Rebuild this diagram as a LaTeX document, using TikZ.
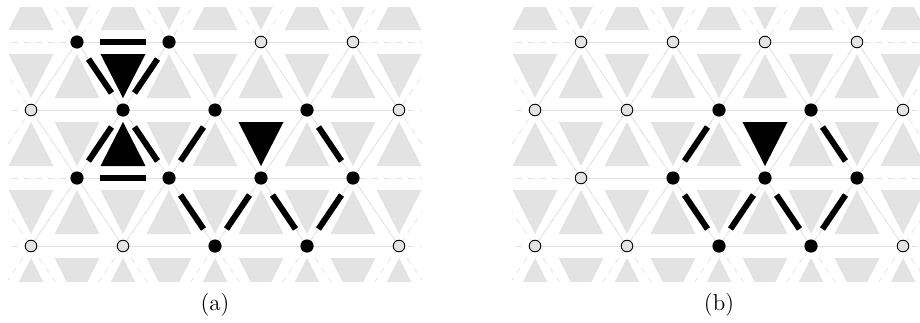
\documentclass[tikz,border=0pt]{standalone}
\usetikzlibrary{calc,backgrounds}

\begin{document}
\begin{tikzpicture}[x=0.5pt, y=-0.5pt,
  occ/.style={circle, fill=black, inner sep=0pt, minimum size=6.6pt},
  vac/.style={circle, draw=black, fill=black!11, line width=0.45pt, inner sep=0pt, minimum size=5.8pt},
  tri/.style={fill=black!11},
  plaq/.style={fill=black},
  gridline/.style={black!12, line width=0.35pt},
  bond/.style={line width=3pt},
  caption/.style={font=\fontsize{11.5pt}{14pt}\selectfont}
]
  \useasboundingbox (0,0) rectangle (920,322);

  % sites of panel (a)
  \foreach \s [count=\c from 0] in {occ,occ,vac,vac} \node[\s] (a0\c) at ({77+92*\c},42) {};
  \foreach \s [count=\c from 0] in {vac,occ,occ,occ,vac} \node[\s] (a1\c) at ({31+92*\c},110) {};
  \foreach \s [count=\c from 0] in {occ,occ,occ,occ} \node[\s] (a2\c) at ({77+92*\c},178) {};
  \foreach \s [count=\c from 0] in {vac,vac,occ,occ,vac} \node[\s] (a3\c) at ({31+92*\c},246) {};

  % sites of panel (b)
  \foreach \s [count=\c from 0] in {vac,vac,vac,vac} \node[\s] (b0\c) at ({581+92*\c},42) {};
  \foreach \s [count=\c from 0] in {vac,vac,occ,occ,vac} \node[\s] (b1\c) at ({535+92*\c},110) {};
  \foreach \s [count=\c from 0] in {vac,occ,occ,occ} \node[\s] (b2\c) at ({581+92*\c},178) {};
  \foreach \s [count=\c from 0] in {vac,vac,occ,occ,vac} \node[\s] (b3\c) at ({535+92*\c},246) {};

  % black plaquettes
  \fill[plaq] (100.5,54) -- (145.5,54) -- (123,98) -- cycle;
  \fill[plaq] (123,122) -- (145.5,166) -- (100.5,166) -- cycle;
  \fill[plaq] (238.5,122) -- (283.5,122) -- (261,166) -- cycle;
  \fill[plaq] (742.5,122) -- (787.5,122) -- (765,166) -- cycle;

  % bonds
  \foreach \u/\v in {a00/a01, a00/a11, a01/a11, a11/a20, a11/a21, a20/a21,
                     a21/a12, a13/a23,
                     a21/a32, a32/a22, a22/a33, a33/a23,
                     b21/b12, b13/b23,
                     b21/b32, b32/b22, b22/b33, b33/b23}
    \draw[bond] ($(\u)!0.25!(\v)$) -- ($(\u)!0.75!(\v)$);

  \node[caption] (capa) at (215,305) {(a)};
  \node[caption] (capb) at (719,305) {(b)};

  % lattice background
  \begin{scope}[on background layer]
  \foreach \p/\dx in {a/0, b/504} {
    \begin{scope}[shift={(\dx,0)}]
      \clip (8,7) rectangle (422,281);
      \foreach \r in {-1,...,4}
        \foreach \c in {-5,...,5} {
          \pgfmathsetmacro{\vx}{77+46*\r+92*\c}
          \pgfmathsetmacro{\vy}{42+68*\r}
          \fill[tri] (\vx,\vy+12) -- (\vx+22.5,\vy+56) -- (\vx-22.5,\vy+56) -- cycle;
          \fill[tri] (\vx+23.5,\vy+12) -- (\vx+68.5,\vy+12) -- (\vx+46,\vy+56) -- cycle;
        }
      \foreach \r in {0,...,3}
        \draw[gridline, dashed] (0,42+68*\r) -- (430,42+68*\r);
      \foreach \k in {-5,...,6} {
        \draw[gridline, dashed] (8+92*\k,-60) -- (284+92*\k,348);
        \draw[gridline, dashed] (146+92*\k,-60) -- (-130+92*\k,348);
      }
    \end{scope}
    % solid grid lines between sites
    \foreach \c [evaluate=\c as \d using int(\c+1)] in {0,1,2} {
      \draw[gridline] (\p0\c) -- (\p0\d);
      \draw[gridline] (\p2\c) -- (\p2\d);
    }
    \foreach \c [evaluate=\c as \d using int(\c+1)] in {0,...,3} {
      \draw[gridline] (\p1\c) -- (\p1\d);
      \draw[gridline] (\p3\c) -- (\p3\d);
      \draw[gridline] (\p0\c) -- (\p1\c) (\p0\c) -- (\p1\d);
      \draw[gridline] (\p1\c) -- (\p2\c) (\p1\d) -- (\p2\c);
      \draw[gridline] (\p2\c) -- (\p3\c) (\p2\c) -- (\p3\d);
    }
  }
  \end{scope}
\end{tikzpicture}
\end{document}
